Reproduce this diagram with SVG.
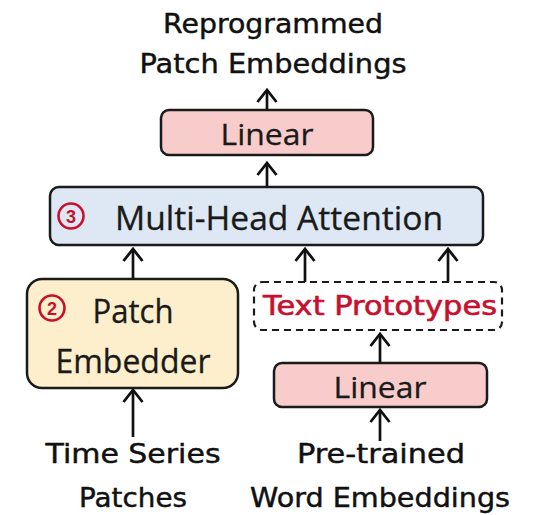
<svg xmlns="http://www.w3.org/2000/svg" width="534" height="515" viewBox="0 0 534 515">
  <defs>
    <style>
      .box { stroke: #1a1a1a; stroke-width: 2.5; }
      .pink { fill: #f8cccb; }
      .blue { fill: #dde8f4; }
      .yellow { fill: #fdefcb; }
      .dash { fill: #ffffff; stroke: #1a1a1a; stroke-width: 2.2; stroke-dasharray: 7 5; }
      .lbl { font-family: "Open Sans", "Liberation Sans", sans-serif; fill: #1a1a1a; stroke: #1a1a1a; stroke-width: 0.3; text-anchor: middle; }
      .hand { font-family: "DejaVu Sans", "Liberation Sans", sans-serif; fill: #111111; stroke: #111111; stroke-width: 0.45; text-anchor: middle; font-size: 26px; }
      .red { fill: #c8102e; stroke: #c8102e; stroke-width: 0.6; }
      .num { fill: none; stroke: #c8102e; stroke-width: 2.6; }
      .numtxt { font-family: "Liberation Sans", sans-serif; font-weight: bold; font-size: 18px; fill: #c8102e; text-anchor: middle; }
      .conn { stroke: #111111; stroke-width: 2.7; fill: none; }
    </style>
    <marker id="head" viewBox="0 0 16 22" refX="14" refY="11" markerWidth="16" markerHeight="22" markerUnits="userSpaceOnUse" orient="auto">
      <path d="M2,1.5 L14,11 L2,20.5" fill="none" stroke="#111111" stroke-width="2.8" stroke-linejoin="miter"/>
    </marker>
  </defs>

  <rect width="534" height="515" fill="#ffffff"/>

  <!-- connectors -->
  <g id="connectors">
    <line class="conn" x1="267" y1="110" x2="267" y2="90" marker-end="url(#head)"/>
    <line class="conn" x1="267" y1="187" x2="267" y2="163" marker-end="url(#head)"/>
    <line class="conn" x1="133" y1="279" x2="133" y2="249" marker-end="url(#head)"/>
    <line class="conn" x1="305" y1="282" x2="305" y2="249" marker-end="url(#head)"/>
    <line class="conn" x1="448" y1="282" x2="448" y2="249" marker-end="url(#head)"/>
    <line class="conn" x1="380" y1="363" x2="380" y2="334" marker-end="url(#head)"/>
    <line class="conn" x1="133" y1="437" x2="133" y2="390" marker-end="url(#head)"/>
    <line class="conn" x1="380" y1="441" x2="380" y2="410" marker-end="url(#head)"/>
  </g>

  <!-- output label -->
  <g id="output">
    <text class="hand" x="273" y="33" textLength="220" lengthAdjust="spacingAndGlyphs">Reprogrammed</text>
    <text class="hand" x="273" y="73" textLength="267" lengthAdjust="spacingAndGlyphs">Patch Embeddings</text>
  </g>

  <g id="linear-out">
    <rect class="box pink" x="161" y="110" width="212" height="45" rx="8"/>
    <text class="lbl" x="267" y="145" font-size="30" textLength="93" lengthAdjust="spacingAndGlyphs">Linear</text>
  </g>

  <g id="attention">
    <rect class="box blue" x="50" y="187" width="433" height="58" rx="9"/>
    <circle class="num" cx="71" cy="216" r="12.5"/>
    <text class="numtxt" x="71" y="222.5">3</text>
    <text class="lbl" x="279" y="230" font-size="32" textLength="328" lengthAdjust="spacingAndGlyphs">Multi-Head Attention</text>
  </g>

  <g id="patch-embedder">
    <rect class="box yellow" x="27" y="279" width="211" height="109" rx="15"/>
    <circle class="num" cx="52" cy="308" r="12.5"/>
    <text class="numtxt" x="52" y="314.5">2</text>
    <text class="lbl" x="133" y="323" font-size="32" textLength="81" lengthAdjust="spacingAndGlyphs">Patch</text>
    <text class="lbl" x="133" y="373" font-size="32" textLength="155" lengthAdjust="spacingAndGlyphs">Embedder</text>
  </g>

  <g id="text-prototypes">
    <rect class="dash" x="254" y="282" width="248" height="48" rx="8"/>
    <text class="hand red" x="380" y="315" textLength="234" lengthAdjust="spacingAndGlyphs">Text Prototypes</text>
  </g>

  <g id="linear-in">
    <rect class="box pink" x="274" y="363" width="213" height="44" rx="8"/>
    <text class="lbl" x="380" y="398" font-size="30" textLength="93" lengthAdjust="spacingAndGlyphs">Linear</text>
  </g>

  <g id="time-series">
    <text class="hand" x="133" y="463" textLength="175" lengthAdjust="spacingAndGlyphs">Time Series</text>
    <text class="hand" x="133" y="507" textLength="108" lengthAdjust="spacingAndGlyphs">Patches</text>
  </g>

  <g id="word-embeddings">
    <text class="hand" x="381" y="463" textLength="168" lengthAdjust="spacingAndGlyphs">Pre-trained</text>
    <text class="hand" x="380" y="507" textLength="260" lengthAdjust="spacingAndGlyphs">Word Embeddings</text>
  </g>
</svg>
